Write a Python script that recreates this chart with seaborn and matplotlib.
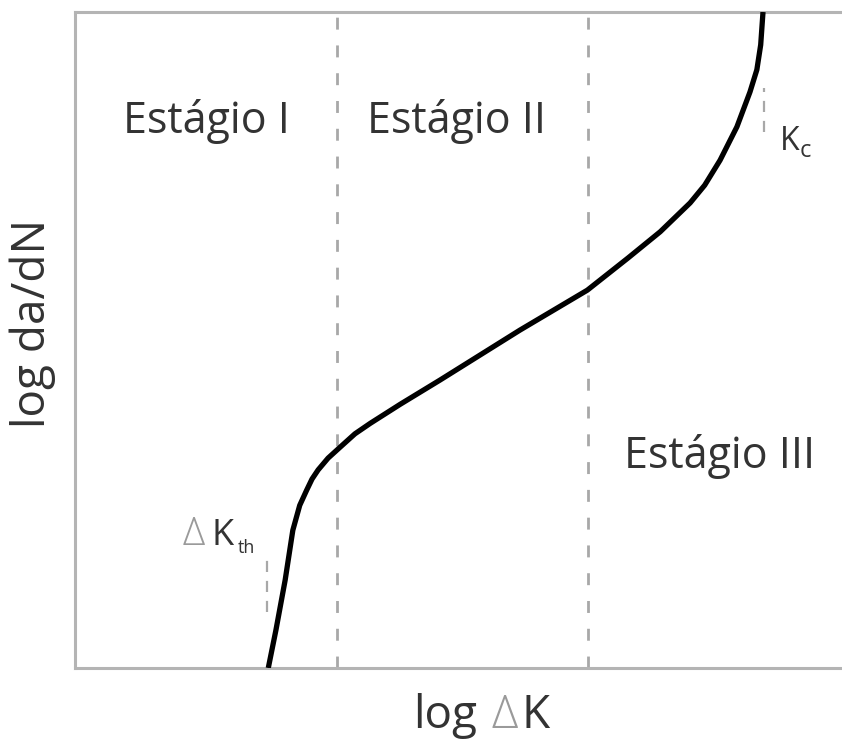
import matplotlib
matplotlib.use("Agg")
import matplotlib.pyplot as plt
import seaborn as sns
import pandas as pd

# Schematic fatigue crack growth curve (log da/dN versus log ΔK), arbitrary units
log_delta_k = [2.52, 2.62, 2.74, 2.84, 2.93, 3.02, 3.09, 3.17, 3.30, 3.46,
               3.65, 3.85, 4.24, 4.76, 5.80, 6.68, 7.21, 7.63, 8.02, 8.21,
               8.41, 8.63, 8.80, 8.89, 8.94, 8.97]
log_dadn = [0.00, 0.58, 1.34, 2.10, 2.48, 2.71, 2.88, 3.02, 3.20, 3.37,
            3.57, 3.73, 4.02, 4.39, 5.15, 5.76, 6.25, 6.65, 7.09, 7.36,
            7.74, 8.25, 8.78, 9.12, 9.50, 10.00]

stage_bounds = [3.42, 6.69]
stage_labels = ["Estágio I", "Estágio II", "Estágio III"]
threshold_x = 2.50
critical_x = 8.98

sns.set_theme(style="white")
plt.rcParams["font.family"] = ["Open Sans", "DejaVu Sans"]

TEXT = "#333333"
LIGHT = "#9a9a9a"
GRID = "#a8a8a8"

fig = plt.figure(figsize=(8.42, 7.43), dpi=100)
ax = fig.add_axes([75 / 842, 75 / 743, 767 / 842, 656 / 743])

df = pd.DataFrame({"log ΔK": log_delta_k, "log da/dN": log_dadn})
sns.lineplot(data=df, x="log ΔK", y="log da/dN", sort=False, ax=ax,
             color="black", linewidth=3.8, zorder=3,
             solid_joinstyle="round", solid_capstyle="butt")

# stage boundaries
for xb in stage_bounds:
    ax.axvline(xb, color=GRID, linewidth=2, linestyle=(0, (4.3, 5.7)), zorder=1)

# short markers at threshold and critical intensity
ax.plot([threshold_x, threshold_x], [0.85, 1.70], color=GRID, linewidth=1.6,
        linestyle=(0, (5, 4)), zorder=1)
ax.plot([critical_x, critical_x], [8.17, 8.84], color=GRID, linewidth=1.6,
        linestyle=(0, (5, 4)), zorder=1)

ax.set_xlim(0, 10)
ax.set_ylim(0, 10)
ax.set_xticks([])
ax.set_yticks([])
ax.set_xlabel("")
ax.set_ylabel("")
ax.spines["right"].set_visible(False)
for side in ["left", "top", "bottom"]:
    ax.spines[side].set_color("#b4b4b4")
    ax.spines[side].set_linewidth(2.2)

fs = 31
ax.text(1.72, 8.16, stage_labels[0], ha="center", va="baseline", fontsize=fs, color=TEXT)
ax.text(4.98, 8.16, stage_labels[1], ha="center", va="baseline", fontsize=fs, color=TEXT)
ax.text(8.41, 3.05, stage_labels[2], ha="center", va="baseline", fontsize=fs, color=TEXT)

# ΔK_th label
ax.text(1.40, 1.875, "Δ", ha="left", va="baseline", fontsize=28, color=LIGHT, fontweight="light")
ax.text(1.78, 1.875, "K", ha="left", va="baseline", fontsize=26, color=TEXT)
ax.text(2.12, 1.75, "th", ha="left", va="baseline", fontsize=13, color=TEXT)

# K_c label
ax.text(9.19, 7.90, "K", ha="left", va="baseline", fontsize=23, color=TEXT)
ax.text(9.45, 7.79, "c", ha="left", va="baseline", fontsize=17, color=TEXT)

# axis titles
fs_ax = 33
fig.text(413 / 842, 15 / 743, "log", ha="left", va="baseline", fontsize=fs_ax, color=TEXT)
fig.text(491 / 842, 15 / 743, "Δ", ha="left", va="baseline", fontsize=fs_ax, color=LIGHT, fontweight="light")
fig.text(522 / 842, 15 / 743, "K", ha="left", va="baseline", fontsize=fs_ax, color=TEXT)
fig.text(33 / 842, 420 / 743, "log da/dN", ha="center", va="center", rotation=90,
         fontsize=fs_ax, color=TEXT)

fig.savefig("out.png", dpi=100, facecolor="white")
